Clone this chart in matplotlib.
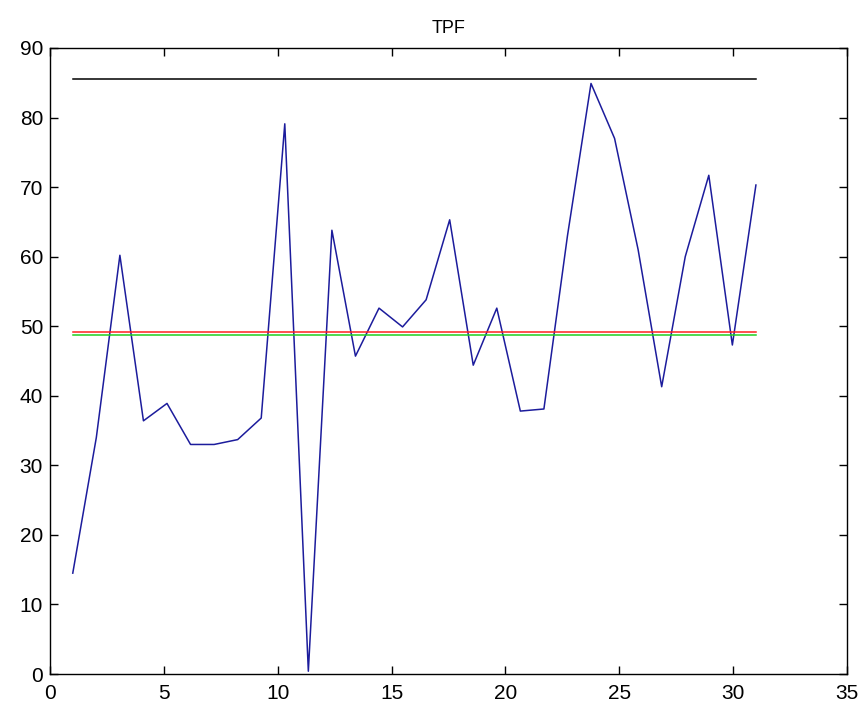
import numpy as np
import matplotlib
matplotlib.use("Agg")
import matplotlib.pyplot as plt

# TPF values per sample
tpf = [14.5, 34.0, 60.2, 36.4, 38.9, 33.0, 33.0, 33.7, 36.8, 79.1,
       0.4, 63.8, 45.7, 52.6, 49.9, 53.8, 65.3, 44.4, 52.6, 37.8,
       38.1, 63.0, 84.9, 77.0, 61.0, 41.3, 60.0, 71.7, 47.3, 70.3]
x_start, x_end = 1, 31
x = np.linspace(x_start, x_end, len(tpf))

# reference levels
level_upper = 85.5
level_mean = 49.2
level_median = 48.7

xticks = [0, 5, 10, 15, 20, 25, 30, 35]
yticks = [0, 10, 20, 30, 40, 50, 60, 70, 80, 90]

plt.rcParams['font.family'] = ['Liberation Sans', 'DejaVu Sans']

fig = plt.figure(figsize=(8.6, 7.07), dpi=100)
ax = fig.add_axes([50 / 860, 33 / 707, 797 / 860, 626 / 707])

ax.plot(x, tpf, color='#1c1c9c', lw=1.1)
ax.plot([x_start, x_end], [level_upper, level_upper], color='black', lw=1.1)
ax.plot([x_start, x_end], [level_mean, level_mean], color='#ff2020', lw=1.1)
ax.plot([x_start, x_end], [level_median, level_median], color='#20d020', lw=1.1)

ax.set_xlim(0, 35)
ax.set_ylim(0, 90)
ax.set_xticks(xticks)
ax.set_yticks(yticks)
ax.tick_params(direction='in', length=6, width=1, top=True, right=True,
               labelsize=15)
ax.tick_params(axis='x', pad=7)
ax.tick_params(axis='y', pad=5)
for s in ax.spines.values():
    s.set_linewidth(1.0)

ax.set_title('TPF', fontsize=13, pad=11)

fig.savefig('out.png', dpi=100)
